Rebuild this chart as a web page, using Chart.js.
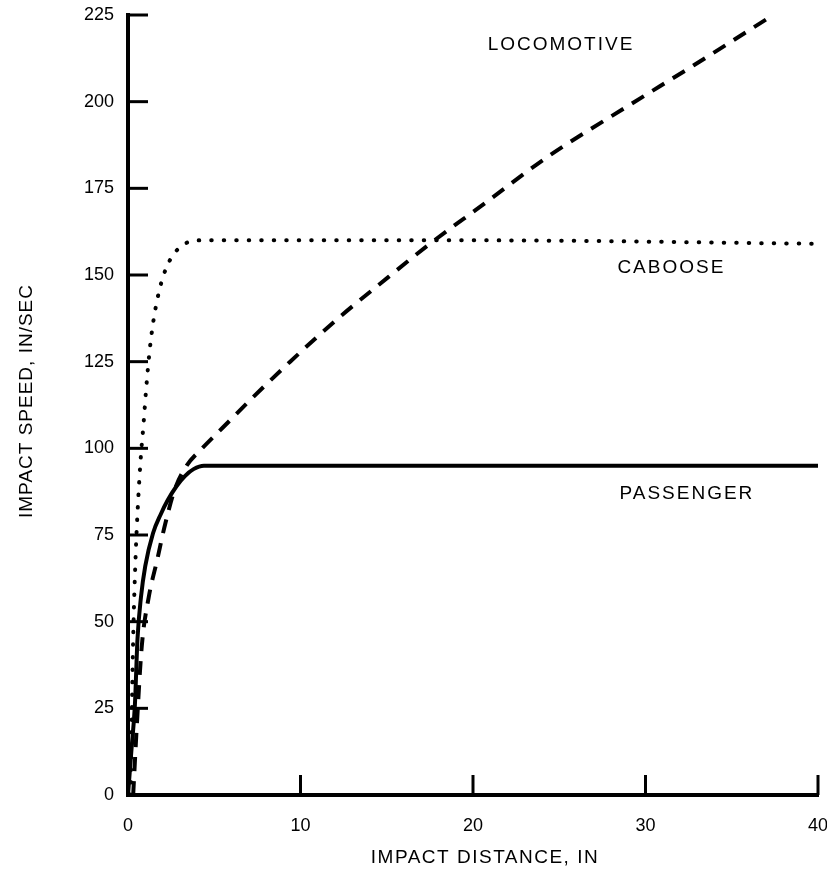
<!DOCTYPE html>
<html>
<head>
<meta charset="utf-8">
<script src="https://cdn.jsdelivr.net/npm/chart.js@4/dist/chart.umd.min.js"></script>
<style>
  html, body { margin: 0; padding: 0; background: #fff; }
  #wrap { width: 827px; height: 878px; }
</style>
</head>
<body>
<div id="wrap"><canvas id="c" width="827" height="878"></canvas></div>
<script>
// Axis ticks
const xTickValues = [0, 10, 20, 30, 40];
const yTickValues = [0, 25, 50, 75, 100, 125, 150, 175, 200, 225];

// Passenger car: impact distance (in) vs impact speed (in/sec)
const passengerX = [0, 0.2, 0.4, 0.55, 0.75, 1.0, 1.45, 1.9, 2.3, 2.8, 3.3, 3.8, 4.4, 40];
const passengerY = [0, 13, 26, 45, 57, 66, 75.5, 81, 85, 89, 92, 94, 95, 95];

// Caboose
const cabooseX = [0.15, 0.3, 0.45, 0.6, 0.75, 0.9, 1.05, 1.25, 1.45, 1.7, 2.0, 2.4, 2.9, 3.5, 4.3, 20, 40];
const cabooseY = [0, 45, 70, 86, 98, 107, 117, 128, 136, 143, 149, 154, 157.5, 159.5, 160, 160, 159];

// Locomotive
const locoX = [0.3, 0.5, 0.8, 1.2, 1.7, 2.1, 2.7, 3.4, 4.3, 5.5, 7.2, 9.4, 12.3, 14.5, 17.5, 20.5, 24.3, 28.9, 32.8, 37.4];
const locoY = [0, 19, 43, 57, 68, 77, 88, 95, 100, 106, 114.5, 125, 138, 147, 159, 170, 184, 198.5, 210.5, 225];

// Curve names and where they sit (data coordinates of label centre)
const curveNames = ['LOCOMOTIVE', 'CABOOSE', 'PASSENGER'];
const curveNameX = [25.1, 31.5, 32.4];
const curveNameY = [216.5, 152, 87];

const xTitle = 'IMPACT DISTANCE, IN';
const yTitle = 'IMPACT SPEED, IN/SEC';

const FONT = '"Liberation Sans", Arial, Helvetica, sans-serif';

const pts = (xs, ys) => xs.map((x, i) => ({ x, y: ys[i] }));

// Short tick marks drawn inward from both axes, plus curve names and axis titles
const figureDecor = {
  id: 'figureDecor',
  afterDatasetsDraw(chart) {
    const { ctx, chartArea, scales } = chart;
    const xs = scales.x, ys = scales.y;
    ctx.save();
    ctx.strokeStyle = '#000';
    ctx.lineWidth = 3;
    ctx.lineCap = 'butt';
    yTickValues.forEach(v => {
      const py = ys.getPixelForValue(v);
      ctx.beginPath();
      ctx.moveTo(chartArea.left, py);
      ctx.lineTo(chartArea.left + 20, py);
      ctx.stroke();
    });
    xTickValues.forEach(v => {
      const px = xs.getPixelForValue(v);
      ctx.beginPath();
      ctx.moveTo(px, chartArea.bottom);
      ctx.lineTo(px, chartArea.bottom - 20);
      ctx.stroke();
    });

    ctx.fillStyle = '#000';
    ctx.textAlign = 'center';
    ctx.textBaseline = 'middle';
    ctx.font = '19px ' + FONT;
    ctx.letterSpacing = '2px';
    curveNames.forEach((name, i) => {
      ctx.fillText(name, xs.getPixelForValue(curveNameX[i]), ys.getPixelForValue(curveNameY[i]));
    });
    ctx.restore();
  },
  afterDraw(chart) {
    const { ctx } = chart;
    ctx.save();
    ctx.fillStyle = '#000';
    ctx.textAlign = 'center';
    ctx.textBaseline = 'middle';
    ctx.font = '19px ' + FONT;
    ctx.letterSpacing = '1.5px';
    ctx.fillText(xTitle, 485, 858);
    ctx.translate(27, 401);
    ctx.rotate(-Math.PI / 2);
    ctx.letterSpacing = '1px';
    ctx.fillText(yTitle, 0, 0);
    ctx.restore();
  }
};

new Chart(document.getElementById('c'), {
  type: 'line',
  data: {
    datasets: [
      {
        label: 'PASSENGER',
        data: pts(passengerX, passengerY),
        borderColor: '#000',
        borderWidth: 4,
        pointRadius: 0,
        cubicInterpolationMode: 'monotone'
      },
      {
        label: 'CABOOSE',
        data: pts(cabooseX, cabooseY),
        borderColor: '#000',
        borderWidth: 4,
        borderDash: [0.5, 12],
        borderCapStyle: 'round',
        pointRadius: 0,
        cubicInterpolationMode: 'monotone'
      },
      {
        label: 'LOCOMOTIVE',
        data: pts(locoX, locoY),
        borderColor: '#000',
        borderWidth: 4,
        borderDash: [14, 10],
        pointRadius: 0,
        cubicInterpolationMode: 'monotone'
      }
    ]
  },
  options: {
    responsive: false,
    animation: false,
    layout: { padding: { top: 15, right: 9, left: 0, bottom: 0 } },
    plugins: { legend: { display: false }, tooltip: { enabled: false } },
    scales: {
      x: {
        type: 'linear',
        min: 0,
        max: 40,
        afterFit(scale) { scale.height = 83; scale.paddingLeft = 0; scale.paddingRight = 0; },
        afterBuildTicks(scale) { scale.ticks = xTickValues.map(v => ({ value: v })); },
        grid: { display: false, drawTicks: false },
        border: { display: true, color: '#000', width: 4 },
        ticks: { color: '#000', padding: 20, font: { family: FONT, size: 18 } }
      },
      y: {
        type: 'linear',
        min: 0,
        max: 225,
        afterFit(scale) { scale.width = 128; scale.paddingTop = 0; scale.paddingBottom = 0; },
        afterBuildTicks(scale) { scale.ticks = yTickValues.map(v => ({ value: v })); },
        grid: { display: false, drawTicks: false },
        border: { display: true, color: '#000', width: 4 },
        ticks: { color: '#000', padding: 14, font: { family: FONT, size: 18 } }
      }
    }
  },
  plugins: [figureDecor]
});
</script>
</body>
</html>
